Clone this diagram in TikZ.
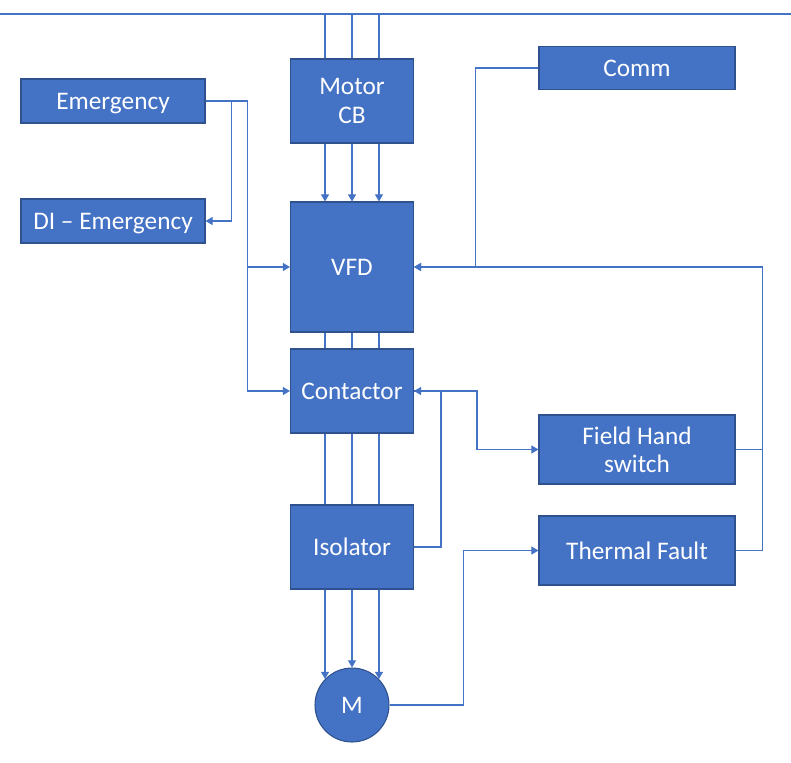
\documentclass[tikz,border=0pt]{standalone}
\usepackage{fontspec}
\setmainfont{Carlito}
\usetikzlibrary{arrows.meta}
\definecolor{officeblue}{RGB}{68,114,196}
\definecolor{officeedge}{RGB}{47,82,143}

\begin{document}
\begin{tikzpicture}[
        x=0.02cm, y=-0.02cm,
        block/.style={draw=officeedge, fill=officeblue, text=white, align=center, line width=0.6pt, inner sep=0pt, font=\fontsize{14.4}{16}\selectfont},
        oneline/.style={text height=10.2pt, text depth=0pt},
        unit/.style={block, minimum width=2.46cm, minimum height=1.68cm},
        signal/.style={block, oneline, minimum width=3.68cm, minimum height=0.88cm},
        panel/.style={block, minimum width=3.92cm, minimum height=1.38cm},
        wire/.style={officeblue, line width=0.6pt},
        arrow/.style={wire, -{Triangle[width=4.5pt,length=4pt]}}
    ]
        \useasboundingbox (0,0) rectangle (791,762);
        \coordinate (busL) at (0,14);
        \coordinate (busR) at (791,14);

        \node[unit] (mcb) at (352,101) {Motor\\CB};
        \node[unit, oneline, minimum height=2.6cm] (vfd) at (352,267) {VFD};
        \node[unit, oneline] (cont) at (352,391) {Contactor};
        \node[unit, oneline] (iso) at (352,547) {Isolator};
        \node[block, oneline, circle, minimum size=1.48cm] (motor) at (352,705) {M};
        \node[signal] (emer) at (113,101) {Emergency};
        \node[signal] (diem) at (113,221) {DI – Emergency};
        \node[panel, oneline, minimum height=0.86cm] (comm) at (637,68) {Comm};
        \node[panel] (field) at (637,449.5) {Field Hand\\switch};
        \node[panel, oneline] (therm) at (637,550.5) {Thermal Fault};

        \draw[wire] (busL) -- (busR);
        \foreach \a in {136,90,44} {
            \draw[wire] (motor.\a |- busL) -- (motor.\a |- mcb.north);
            \draw[arrow] (motor.\a |- mcb.south) -- (motor.\a |- vfd.north);
            \draw[wire] (motor.\a |- vfd.south) -- (motor.\a |- cont.north);
            \draw[wire] (motor.\a |- cont.south) -- (motor.\a |- iso.north);
            \draw[arrow] (motor.\a |- iso.south) -- (motor.\a);
        }

        \draw[arrow] (emer.east) -- ++(26,0) |- (diem.east);
        \draw[arrow] (emer.east) -- ++(42,0) |- (vfd.west);
        \draw[arrow] (emer.east) -- ++(42,0) |- (cont.west);
        \draw[arrow] (comm.west) -- ++(-63,0) |- (vfd.east);
        \draw[arrow] (therm.east) -- ++(27,0) |- (vfd.east);
        \draw[wire] (field.east) -- ++(27,0);
        \draw[arrow] (iso.east) -- ++(27,0) |- (cont.east);
        \draw[arrow] (cont.east) -- ++(63,0) |- (field.west);
        \draw[arrow] (motor.east) -- ++(74,0) |- (therm.west);
    \end{tikzpicture}
\end{document}
